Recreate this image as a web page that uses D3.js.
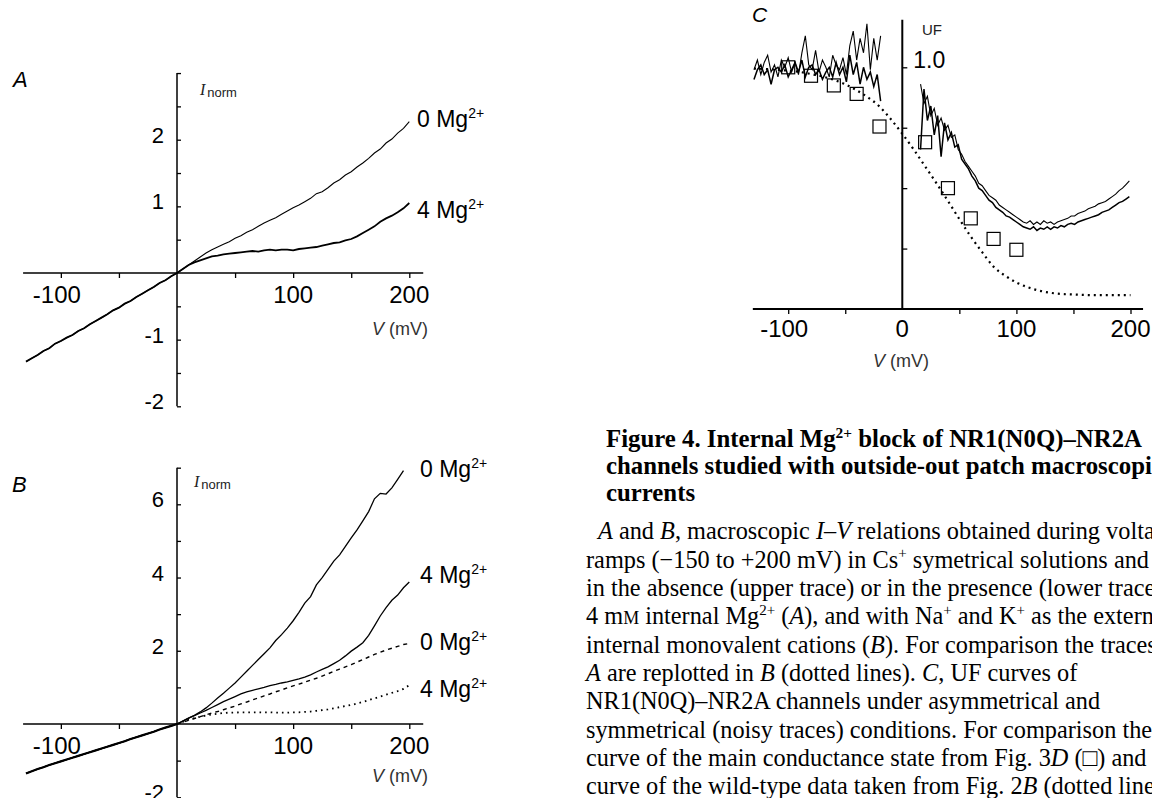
<!DOCTYPE html>
<html><head><meta charset="utf-8">
<script src="https://cdn.jsdelivr.net/npm/d3@7"></script>
<style>body{margin:0;background:#fff} svg{display:block} text{white-space:pre}</style>
</head><body>
<svg id="c" width="1152" height="798"></svg>
<script>
// ---------------- DATA ----------------
// voltage grids (mV)
const vNeg = [-130,-125,-120,-115,-110,-105,-100,-95,-90,-85,-80,-75,-70,-65,-60,-55,-50,-45,-40,-35,-30,-25,-20,-15,-10,-5,0];
const vPos = [5,10,15,20,25,30,35,40,45,50,55,60,65,70,75,80,85,90,95,100,105,110,115,120,125,130,135,140,145,150,155,160,165,170,175,180,185,190,195,200];

// Panel A (Cs+ symmetrical), I_norm
const aNeg = [-1.33,-1.28,-1.23,-1.17,-1.13,-1.06,-1.02,-0.97,-0.93,-0.87,-0.83,-0.77,-0.72,-0.67,-0.62,-0.56,-0.52,-0.46,-0.42,-0.36,-0.31,-0.26,-0.21,-0.15,-0.11,-0.05,0];
const a0Mg = [0.06,0.12,0.18,0.24,0.30,0.35,0.39,0.43,0.47,0.52,0.56,0.61,0.65,0.70,0.75,0.79,0.83,0.88,0.93,0.98,1.02,1.07,1.12,1.19,1.22,1.28,1.35,1.40,1.47,1.52,1.59,1.65,1.72,1.80,1.86,1.95,2.01,2.10,2.17,2.27];
const a4Mg = [0.06,0.12,0.16,0.19,0.22,0.25,0.26,0.28,0.29,0.30,0.31,0.32,0.33,0.32,0.34,0.35,0.34,0.35,0.35,0.34,0.36,0.37,0.38,0.39,0.41,0.43,0.45,0.46,0.49,0.51,0.55,0.60,0.65,0.70,0.77,0.82,0.86,0.91,0.97,1.05];

// Panel B (Na+/K+), I_norm
const bNeg = [-1.35,-1.29,-1.23,-1.18,-1.12,-1.07,-1.02,-0.97,-0.92,-0.87,-0.82,-0.77,-0.72,-0.67,-0.62,-0.57,-0.52,-0.47,-0.41,-0.36,-0.31,-0.26,-0.21,-0.15,-0.10,-0.05,0];
const b0Mg = [0.08,0.16,0.24,0.33,0.44,0.57,0.71,0.84,0.98,1.12,1.28,1.44,1.60,1.76,1.92,2.08,2.28,2.44,2.62,2.82,3.05,3.30,3.48,3.80,4.00,4.22,4.45,4.62,4.85,5.08,5.30,5.55,5.80,6.15,6.30,6.28,6.45,6.68,6.92];
const b4Mg = [0.08,0.16,0.23,0.30,0.37,0.45,0.53,0.61,0.68,0.75,0.82,0.88,0.92,0.96,1.00,1.05,1.08,1.12,1.15,1.19,1.23,1.28,1.34,1.42,1.49,1.56,1.65,1.74,1.86,1.99,2.10,2.22,2.42,2.68,2.95,3.18,3.38,3.52,3.72,3.88];
const bRep0Mg = [0.05,0.10,0.15,0.20,0.25,0.30,0.34,0.39,0.44,0.49,0.55,0.60,0.66,0.71,0.77,0.82,0.88,0.93,0.99,1.04,1.09,1.14,1.20,1.25,1.31,1.37,1.44,1.50,1.56,1.62,1.69,1.76,1.83,1.90,1.96,2.02,2.07,2.12,2.17,2.20];
const bRep4Mg = [0.06,0.12,0.16,0.20,0.23,0.26,0.28,0.30,0.31,0.31,0.32,0.32,0.32,0.32,0.32,0.32,0.31,0.31,0.31,0.32,0.32,0.33,0.34,0.36,0.38,0.40,0.43,0.46,0.49,0.52,0.56,0.60,0.65,0.70,0.75,0.80,0.85,0.90,0.96,1.06];

// Panel C, UF
const wtV  = [-130,-120,-110,-100,-90,-80,-70,-60,-50,-40,-30,-20,-10,0,10,20,30,40,50,60,70,80,90,100,110,120,130,140,150,160,170,180,190,200];
const wtUF = [0.995,0.993,0.99,0.986,0.981,0.972,0.962,0.948,0.93,0.905,0.875,0.838,0.785,0.725,0.66,0.59,0.52,0.447,0.372,0.30,0.235,0.175,0.138,0.11,0.09,0.076,0.067,0.062,0.06,0.058,0.057,0.057,0.057,0.057];
const sqV  = [-100,-80,-60,-40,-20,20,40,60,80,100];
const sqUF = [1.0,0.965,0.925,0.89,0.755,0.69,0.50,0.375,0.29,0.245];
const cLeftV = [-130,-127,-124,-121,-118,-115,-112,-109,-106,-103,-100,-97,-94,-91,-88,-85,-82,-79,-76,-73,-70,-67,-64,-61,-58,-55,-52,-49,-46,-43,-40,-37,-34,-31,-28,-25,-22,-19];
const c1Left = [0.99,1.03,0.97,1.02,1.05,0.98,1.01,0.96,1.03,1.00,1.04,0.98,1.02,0.97,1.06,1.13,1.01,0.99,1.07,0.98,1.03,1.00,0.96,1.05,1.01,0.99,1.04,0.97,1.09,1.15,1.03,1.12,1.06,1.18,0.99,1.12,1.03,1.13];
const c2Left = [0.95,0.99,1.01,0.97,0.99,0.93,0.99,1.00,0.98,1.01,0.96,0.99,1.02,0.98,1.03,0.96,1.00,1.01,0.97,0.99,0.95,0.98,1.00,0.96,1.02,0.97,1.00,0.94,1.05,0.97,1.02,0.93,1.00,0.95,0.98,0.92,0.97,0.86];
const cRightV = [16,19,22,25,28,31,34,37,40,43,46,49,52,55,58,61,64,67,70,73,76,79,82,85,88,91,94,97,100,103,106,109,112,115,118,121,124,127,130,133,136,139,142,145,148,151,154,157,160,163,166,169,172,175,178,181,184,187,190,193,196,199];
const c1Right = [0.93,0.85,0.88,0.80,0.83,0.76,0.79,0.74,0.76,0.71,0.72,0.66,0.64,0.61,0.59,0.57,0.55,0.52,0.51,0.49,0.47,0.46,0.45,0.43,0.42,0.41,0.40,0.39,0.38,0.37,0.36,0.355,0.365,0.35,0.36,0.35,0.365,0.355,0.36,0.35,0.36,0.365,0.37,0.375,0.385,0.385,0.395,0.40,0.405,0.415,0.42,0.425,0.435,0.44,0.445,0.455,0.465,0.475,0.49,0.50,0.515,0.53];
const c2Right = [0.66,0.91,0.78,0.84,0.72,0.80,0.63,0.77,0.70,0.73,0.67,0.68,0.62,0.60,0.58,0.55,0.53,0.50,0.49,0.47,0.45,0.44,0.42,0.41,0.40,0.385,0.38,0.37,0.36,0.35,0.34,0.335,0.33,0.34,0.325,0.335,0.33,0.34,0.33,0.34,0.335,0.345,0.34,0.35,0.355,0.35,0.36,0.365,0.37,0.375,0.38,0.385,0.39,0.40,0.405,0.41,0.42,0.43,0.44,0.445,0.455,0.465];

// tick labels
const xTickLabelsAB = [-100,100,200];
const xTickLabelsC = [-100,0,100,200];
const yTickLabelsA = [-2,-1,1,2];
const yTickLabelsB = [-2,2,4,6];

// caption
const titleLines = [
  [["Figure 4. Internal Mg"],["2+","sup"],[" block of NR1(N0Q)–NR2A"]],
  [["channels studied with outside-out patch macroscopic"]],
  [["currents"]]
];
const bodyLines = [
  [["A","i"],[" and "],["B","i"],[", macroscopic "],["I","i"],["–"],["V","i"],[" relations obtained during voltage"]],
  [["ramps (−150 to +200 mV) in Cs"],["+","sup"],[" symetrical solutions and"]],
  [["in the absence (upper trace) or in the presence (lower trace) of"]],
  [["4 m"],["M","sc"],[" internal Mg"],["2+","sup"],[" ("],["A","i"],["), and with Na"],["+","sup"],[" and K"],["+","sup"],[" as the external and"]],
  [["internal monovalent cations ("],["B","i"],["). For comparison the traces in"]],
  [["A","i"],[" are replotted in "],["B","i"],[" (dotted lines). "],["C","i"],[", UF curves of"]],
  [["NR1(N0Q)–NR2A channels under asymmetrical and"]],
  [["symmetrical (noisy traces) conditions. For comparison the"]],
  [["curve of the main conductance state from Fig. 3"],["D","i"],[" (□) and"]],
  [["curve of the wild-type data taken from Fig. 2"],["B","i"],[" (dotted lines)"]]
];

// ---------------- DRAW ----------------
const svg = d3.select("#c");
const SANS = "'Liberation Sans', Arial, sans-serif";
const SERIF = "'Liberation Serif', 'Times New Roman', serif";

function pts(vs, is) { return vs.slice(0, is.length).map((v,i)=>[v, is[i]]); }
function lineGen(x, y) { return d3.line().x(d=>x(d[0])).y(d=>y(d[1])); }

function mgLabel(x, y, num) {
  const t = svg.append("text").attr("x",x).attr("y",y).attr("font-family",SANS).attr("font-size",23).attr("fill","#000");
  t.append("tspan").text(num+" Mg");
  t.append("tspan").attr("font-size",14).attr("dy",-9).text("2+");
}
function inorm(x, y) {
  const t = svg.append("text").attr("x",x).attr("y",y).attr("fill","#222");
  t.append("tspan").attr("font-family",SERIF).attr("font-style","italic").attr("font-size",16).text("I");
  t.append("tspan").attr("font-family",SANS).attr("font-size",13).attr("dx",2).attr("dy",2).text("norm");
}
function vLabel(x, y) {
  const t = svg.append("text").attr("x",x).attr("y",y).attr("font-family",SANS).attr("font-size",18).attr("fill","#333");
  t.append("tspan").attr("font-style","italic").text("V");
  t.append("tspan").text(" (mV)");
}

function ivPanel(opt) {
  const {x, y, xExt, yExt, yTicks, yLabels} = opt;
  const g = svg.append("g");
  g.append("line").attr("x1",x(xExt[0])).attr("x2",x(xExt[1])).attr("y1",y(0)).attr("y2",y(0)).attr("stroke","#000").attr("stroke-width",1.5);
  g.append("line").attr("x1",x(0)).attr("x2",x(0)).attr("y1",y(yExt[0])).attr("y2",y(yExt[1])).attr("stroke","#000").attr("stroke-width",1.5);
  const xa = d3.axisBottom(x).tickValues([-100,-50,50,100,150,200]).tickSize(5).tickFormat("");
  g.append("g").attr("transform",`translate(0,${y(0)})`).call(xa).call(s=>s.select(".domain").remove()).selectAll("line").attr("stroke-width",1.3);
  const ya = d3.axisRight(y).tickValues(yTicks).tickSize(4).tickFormat("");
  g.append("g").attr("transform",`translate(${x(0)},0)`).call(ya).call(s=>s.select(".domain").remove()).selectAll("line").attr("stroke-width",1.3);
  xTickLabelsAB.forEach(v=>{
    g.append("text").attr("x",x(v)+(v<0?-4:0)).attr("y",y(0)+30).attr("text-anchor","middle")
      .attr("font-family",SANS).attr("font-size",24).text(String(v));
  });
  yLabels.forEach(v=>{
    g.append("text").attr("x",x(0)-13).attr("y",y(v)+3).attr("text-anchor","end")
      .attr("font-family",SANS).attr("font-size",22).text(String(v));
  });
  return g;
}

// ----- Panel A -----
const xA = d3.scaleLinear().domain([0,200]).range([177,409.3]);
const yA = d3.scaleLinear().domain([0,2]).range([273,139.7]);
const gA = ivPanel({x:xA, y:yA, xExt:[-132.5,212], yExt:[-2,3], yTicks:[-2,-1.5,-1,-0.5,0.5,1,1.5,2,2.5,3], yLabels:yTickLabelsA});
const lA = lineGen(xA,yA);
const negA = pts(vNeg,aNeg);
gA.append("path").attr("d", lA(negA.concat(pts(vPos,a0Mg)))).attr("fill","none").attr("stroke","#000").attr("stroke-width",1.1);
gA.append("path").attr("d", lA(negA.concat(pts(vPos,a4Mg)))).attr("fill","none").attr("stroke","#000").attr("stroke-width",1.8);
mgLabel(417,127,0); mgLabel(417,218,4);
inorm(200,95); vLabel(372,335);
svg.append("text").attr("x",13).attr("y",87).attr("font-family",SANS).attr("font-style","italic").attr("font-size",22).text("A");

// ----- Panel B -----
const xB = d3.scaleLinear().domain([0,200]).range([177,409.3]);
const yB = d3.scaleLinear().domain([0,6]).range([724,504.3]);
const gB = ivPanel({x:xB, y:yB, xExt:[-132.5,212], yExt:[-2,7], yTicks:[-2,-1,1,2,3,4,5,6,7], yLabels:yTickLabelsB});
const lB = lineGen(xB,yB);
const negB = pts(vNeg,bNeg);
gB.append("path").attr("d", lB([[0,0]].concat(pts(vPos,bRep0Mg)))).attr("fill","none").attr("stroke","#000").attr("stroke-width",1.4).attr("stroke-dasharray","4,4");
gB.append("path").attr("d", lB([[0,0]].concat(pts(vPos,bRep4Mg)))).attr("fill","none").attr("stroke","#000").attr("stroke-width",1.8).attr("stroke-dasharray","1.6,4");
gB.append("path").attr("d", lB(negB.concat(pts(vPos,b0Mg)))).attr("fill","none").attr("stroke","#000").attr("stroke-width",1.3);
gB.append("path").attr("d", lB(negB.concat(pts(vPos,b4Mg)))).attr("fill","none").attr("stroke","#000").attr("stroke-width",1.3);
gB.append("path").attr("d", lB(negB)).attr("fill","none").attr("stroke","#000").attr("stroke-width",2.2);
mgLabel(420,477,0); mgLabel(420,583,4); mgLabel(420,650,0); mgLabel(420,697,4);
inorm(194,487); vLabel(372,782);
svg.append("text").attr("x",12).attr("y",492).attr("font-family",SANS).attr("font-style","italic").attr("font-size",22).text("B");

// ----- Panel C -----
const xC = d3.scaleLinear().domain([0,200]).range([902.3,1130.5]);
const yC = d3.scaleLinear().domain([0,1]).range([309,67.3]);
const gC = svg.append("g");
gC.append("line").attr("x1",xC(-131)).attr("x2",xC(211)).attr("y1",yC(0)).attr("y2",yC(0)).attr("stroke","#000").attr("stroke-width",2);
gC.append("line").attr("x1",xC(0)).attr("x2",xC(0)).attr("y1",yC(0)).attr("y2",yC(1.197)).attr("stroke","#000").attr("stroke-width",2);
gC.append("g").attr("transform",`translate(0,${yC(0)})`)
  .call(d3.axisBottom(xC).tickValues([-100,-50,50,100,150,200]).tickSize(5).tickFormat(""))
  .call(s=>s.select(".domain").remove()).selectAll("line").attr("stroke-width",1.3);
gC.append("g").attr("transform",`translate(${xC(0)},0)`)
  .call(d3.axisRight(yC).tickValues([0.25,0.5,0.75,1.0]).tickSize(5).tickFormat(""))
  .call(s=>s.select(".domain").remove()).selectAll("line").attr("stroke-width",1.3);
xTickLabelsC.forEach(v=>{
  gC.append("text").attr("x",xC(v)+(v<0?-4:0)).attr("y",yC(0)+28).attr("text-anchor","middle")
    .attr("font-family",SANS).attr("font-size",24).text(String(v));
});
gC.append("text").attr("x",xC(0)+11).attr("y",yC(1)+1).attr("font-family",SANS).attr("font-size",23).text("1.0");
gC.append("text").attr("x",922).attr("y",35).attr("font-family",SANS).attr("font-size",15).attr("fill","#222").text("UF");
svg.append("text").attr("x",752).attr("y",22).attr("font-family",SANS).attr("font-style","italic").attr("font-size",21).text("C");
vLabel(873,367);
const lC = lineGen(xC,yC);
gC.append("path").attr("d", d3.line().x(d=>xC(d[0])).y(d=>yC(d[1])).curve(d3.curveMonotoneX)(pts(wtV,wtUF)))
  .attr("fill","none").attr("stroke","#000").attr("stroke-width",2.2).attr("stroke-dasharray","2,4");
gC.append("path").attr("d", lC(pts(cLeftV,c1Left))).attr("fill","none").attr("stroke","#000").attr("stroke-width",1.1);
gC.append("path").attr("d", lC(pts(cLeftV,c2Left))).attr("fill","none").attr("stroke","#000").attr("stroke-width",1.5);
gC.append("path").attr("d", lC(pts(cRightV,c1Right))).attr("fill","none").attr("stroke","#000").attr("stroke-width",1.1);
gC.append("path").attr("d", lC(pts(cRightV,c2Right))).attr("fill","none").attr("stroke","#000").attr("stroke-width",1.5);
gC.selectAll("rect.sq").data(pts(sqV,sqUF)).join("rect").attr("class","sq")
  .attr("x",d=>xC(d[0])-6.5).attr("y",d=>yC(d[1])-6.5).attr("width",13).attr("height",13)
  .attr("fill","none").attr("stroke","#000").attr("stroke-width",1.2);

// ----- Caption -----
function richLine(x, y, segs, size, weight) {
  const t = svg.append("text").attr("x",x).attr("y",y).attr("font-family",SERIF)
    .attr("font-size",size).attr("font-weight",weight).attr("fill","#000");
  let shift = 0;
  segs.forEach(s=>{
    const txt = s[0], st = s[1]||"";
    const ts = t.append("tspan").text(txt);
    let target = 0;
    if (st==="sup") { ts.attr("font-size", size*0.62); target = -size*0.38; }
    if (st==="i") ts.attr("font-style","italic");
    if (st==="sc") ts.attr("font-size", size*0.74);
    if (target!==shift) { ts.attr("dy", target-shift); shift = target; }
  });
}
titleLines.forEach((ln,i)=>richLine(606, 447+i*27, ln, 24.8, "bold"));
bodyLines.forEach((ln,i)=>richLine(i===0?598:586, 539.4+i*28.3, ln, 24.3, "normal"));
</script>
</body></html>
